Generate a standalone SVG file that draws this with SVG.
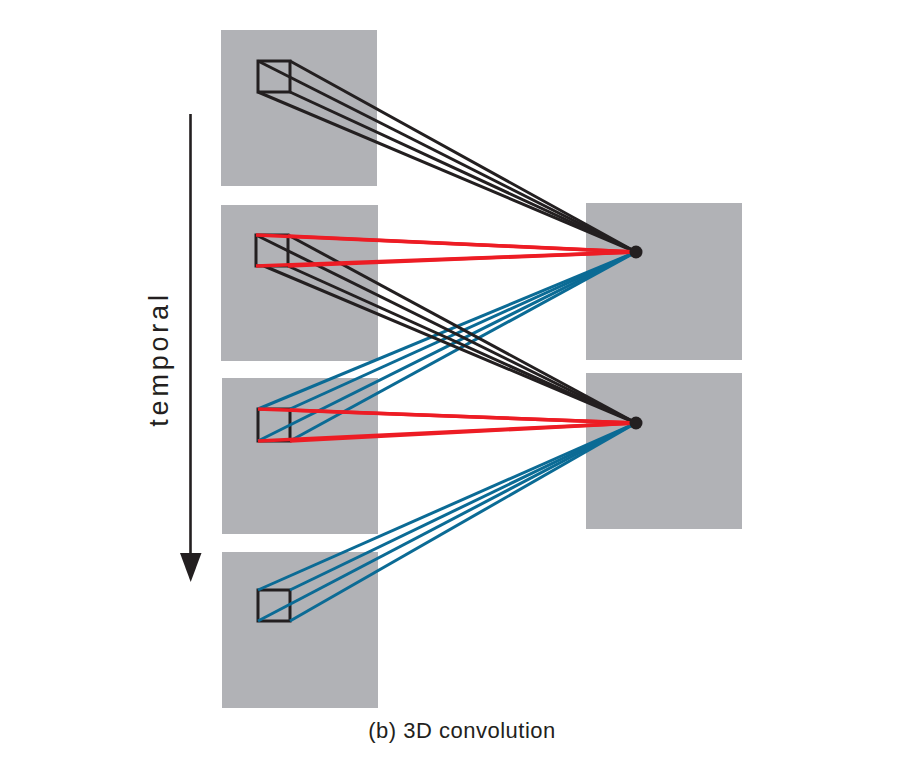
<svg xmlns="http://www.w3.org/2000/svg" width="898" height="760" viewBox="0 0 898 760">
<style>
.frame{fill:#b1b2b6}
.sq{fill:none;stroke:#231f20;stroke-width:3}
.k{stroke:#231f20;stroke-width:3;fill:none}
.r{stroke:#ed1c24;stroke-width:3.5;fill:none}
.b{stroke:#0b6b95;stroke-width:3;fill:none}
.dot{fill:#231f20}
.lbl{font-family:"Liberation Sans",Arial,sans-serif;fill:#231f20}
</style>
<rect width="898" height="760" fill="#fff"/>
<g id="frame-in-1"><rect class="frame" x="221" y="30" width="156" height="156"/><rect class="sq" x="258" y="61" width="32" height="31"/></g>
<g id="frame-in-2"><rect class="frame" x="221" y="205" width="157" height="156"/><rect class="sq" x="256" y="235" width="32" height="31"/></g>
<g id="frame-in-3"><rect class="frame" x="222" y="378" width="156" height="156"/><rect class="sq" x="258" y="409" width="32" height="32"/></g>
<g id="frame-in-4"><rect class="frame" x="222" y="552" width="156" height="156"/><rect class="sq" x="258" y="590" width="32" height="31"/></g>
<g id="frame-out-1"><rect class="frame" x="586" y="203" width="156" height="157"/></g>
<g id="frame-out-2"><rect class="frame" x="586" y="373" width="156" height="156"/></g>
<g id="connectors">
<g class="b">
<line x1="258" y1="409" x2="636" y2="252"/><line x1="290" y1="409" x2="636" y2="252"/>
<line x1="258" y1="441" x2="636" y2="252"/><line x1="290" y1="441" x2="636" y2="252"/>
<line x1="258" y1="590" x2="636" y2="423"/><line x1="290" y1="590" x2="636" y2="423"/>
<line x1="258" y1="621" x2="636" y2="423"/><line x1="290" y1="621" x2="636" y2="423"/>
</g>
<g class="k">
<line x1="258" y1="61" x2="636" y2="252"/><line x1="290" y1="61" x2="636" y2="252"/>
<line x1="258" y1="92" x2="636" y2="252"/><line x1="290" y1="92" x2="636" y2="252"/>
<line x1="256" y1="235" x2="636" y2="423"/><line x1="288" y1="235" x2="636" y2="423"/>
<line x1="264" y1="266" x2="636" y2="423"/><line x1="288" y1="266" x2="636" y2="423"/>
</g>
<g class="r">
<line x1="256" y1="235" x2="636" y2="252"/><line x1="288" y1="236" x2="636" y2="252"/>
<line x1="256" y1="266" x2="636" y2="252"/><line x1="288" y1="266" x2="636" y2="252"/>
<line x1="258" y1="409" x2="636" y2="423"/><line x1="290" y1="410" x2="636" y2="423"/>
<line x1="258" y1="441" x2="636" y2="423"/><line x1="290" y1="441" x2="636" y2="423"/>
</g>
<circle class="dot" cx="636" cy="252" r="6.5"/>
<circle class="dot" cx="636" cy="423" r="6.5"/>
</g>
<g id="time-axis">
<line x1="190.5" y1="114" x2="190.5" y2="556" stroke="#231f20" stroke-width="2.6"/>
<polygon points="180,553 201.5,553 190.7,582" fill="#231f20"/>
<text class="lbl" transform="translate(168,359) rotate(-90)" text-anchor="middle" font-size="27" letter-spacing="3.8">temporal</text>
</g>
<text class="lbl" x="462" y="738" text-anchor="middle" font-size="22" letter-spacing="0.5">(b) 3D convolution</text>
</svg>
